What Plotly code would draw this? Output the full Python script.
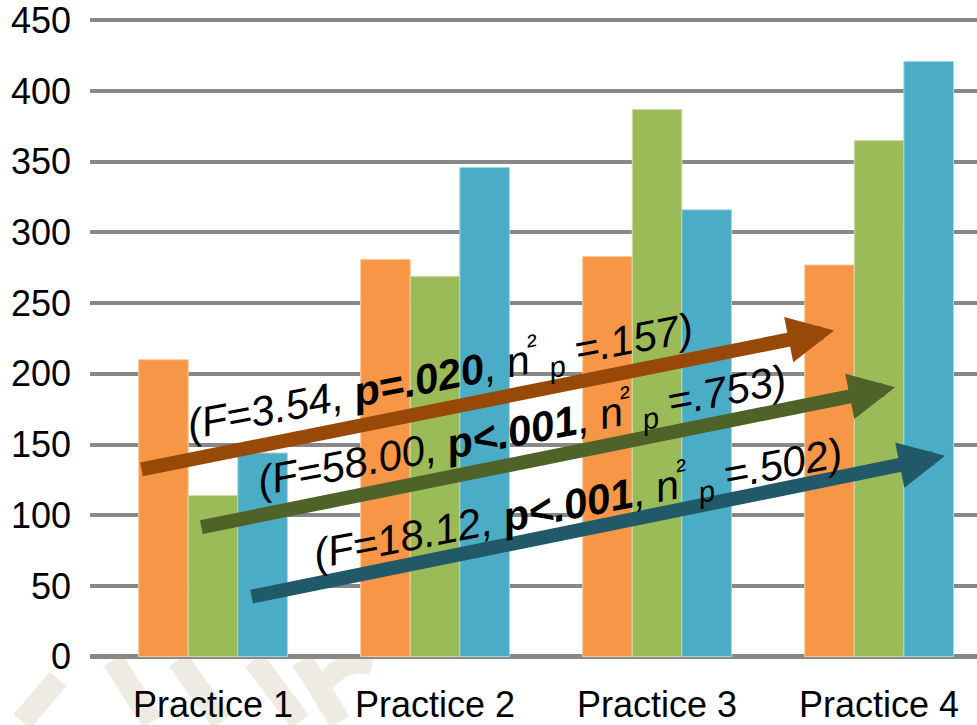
import plotly.graph_objects as go

# ---- data -------------------------------------------------------------
categories = ["Practice 1", "Practice 2", "Practice 3", "Practice 4"]
series_orange = [210, 281, 283, 277]
series_green = [114, 269, 387, 365]
series_blue = [144, 346, 316, 421]

y_ticks = [0, 50, 100, 150, 200, 250, 300, 350, 400, 450]

# repeated-measures statistics shown along each trend arrow
f_values = ["3.54", "58.00", "18.12"]
p_labels = ["p=.020", "p&lt;.001", "p&lt;.001"]
eta_values = [".157", ".753", ".502"]

# ---- styling ----------------------------------------------------------
bar_colors = ["#F79646", "#9BBB59", "#4BACC6"]
bar_edges = ["#FBC9A3", "#CDDDAC", "#A5D5E2"]
arrow_colors = ["#984807", "#4F6228", "#215968"]
grid_color = "#888888"
font_family = "Liberation Sans, Arial, sans-serif"

# arrow tail/tip and label anchor in axis units (x: category index, y: value)
arrow_tails = [(-0.329, 132.2), (-0.059, 91.4), (0.167, 42.2)]
arrow_tips = [(2.797, 230.6), (3.072, 190.5), (3.297, 142.0)]
label_centers = [(1.022, 198.5), (1.392, 160.5), (1.644, 109.0)]
label_angle = -11

W, H = 977, 725
margin = dict(l=90, r=0, t=19, b=64)

x_pos = list(range(len(categories)))

fig = go.Figure()
for name, vals, col, edge in zip(["Series 1", "Series 2", "Series 3"],
                                 [series_orange, series_green, series_blue],
                                 bar_colors, bar_edges):
    fig.add_trace(go.Bar(
        x=x_pos, y=vals, name=name,
        marker=dict(color=col, line=dict(color=edge, width=1)),
        hoverinfo="x+y",
    ))

annotations = []
for (tx, ty), (hx, hy), col in zip(arrow_tails, arrow_tips, arrow_colors):
    annotations.append(dict(
        x=hx, y=hy, xref="x", yref="y",
        ax=tx, ay=ty, axref="x", ayref="y",
        text="", showarrow=True,
        arrowhead=2, arrowsize=0.66, arrowwidth=14, arrowcolor=col,
        standoff=0, startstandoff=0,
    ))

for (cx, cy), f, p, eta in zip(label_centers, f_values, p_labels, eta_values):
    txt = (f"<i>(F={f}, <b>{p}</b>, n<sup>²</sup><sub> p</sub> ={eta})</i>")
    annotations.append(dict(
        x=cx, y=cy, xref="x", yref="y",
        text=txt, showarrow=False, textangle=label_angle,
        font=dict(family=font_family, size=42, color="black"),
        xanchor="center", yanchor="middle",
    ))

# faint watermark strokes in the lower margin (pixel -> paper coords)
plot_w = W - margin["l"] - margin["r"]
plot_h = H - margin["t"] - margin["b"]


def px(x, y):
    return (x - margin["l"]) / plot_w, (H - margin["b"] - y) / plot_h


wm_color = "#EEECE2"
shapes = []
for (x0, y0), (x1, y1) in [((113, 663), (152, 725)),
                           ((178, 663), (222, 725)),
                           ((254, 663), (300, 725)),
                           ((302, 663), (340, 725)),
                           ((22, 725), (58, 682))]:
    a0, b0 = px(x0, y0)
    a1, b1 = px(x1, y1)
    shapes.append(dict(type="line", xref="paper", yref="paper",
                       x0=a0, y0=b0, x1=a1, y1=b1, layer="below",
                       line=dict(color=wm_color, width=22)))
p0 = px(318, 695)
p1 = px(340, 660)
p2 = px(372, 668)
shapes.append(dict(type="path", xref="paper", yref="paper", layer="below",
                   path=f"M{p0[0]},{p0[1]} Q{p1[0]},{p1[1]} {p2[0]},{p2[1]}",
                   line=dict(color=wm_color, width=20)))

fig.update_layout(
    width=W, height=H, margin=margin,
    paper_bgcolor="white", plot_bgcolor="white",
    barmode="group", bargap=0.33, bargroupgap=0,
    showlegend=False,
    font=dict(family=font_family, size=36, color="black"),
    annotations=annotations, shapes=shapes,
    xaxis=dict(
        range=[-0.554, 3.441], tickmode="array", tickvals=x_pos, ticktext=categories,
        showgrid=False, zeroline=False, showline=False, ticks="",
        tickfont=dict(size=36, color="black"), ticklabelstandoff=22,
    ),
    yaxis=dict(
        range=[-1, 451], tickmode="array", tickvals=y_ticks,
        showgrid=True, gridcolor=grid_color, gridwidth=4,
        zeroline=True, zerolinecolor=grid_color, zerolinewidth=5,
        showline=False, ticks="",
        tickfont=dict(size=36, color="black"), ticklabelstandoff=18,
    ),
)

fig.write_html("out.html")
